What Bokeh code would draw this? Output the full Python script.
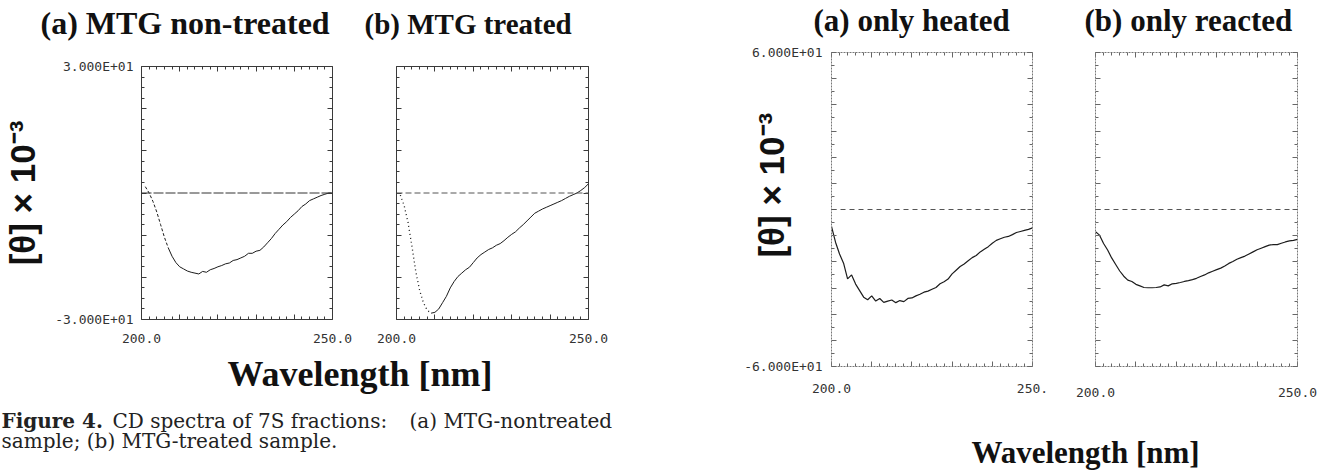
from bokeh.plotting import figure
from bokeh.models import Range1d, LinearAxis, FixedTicker, Label, Span
from bokeh.layouts import row, column
from bokeh.embed import file_html
from bokeh.resources import INLINE

# ---------------- data ----------------
wl_ab = list(range(201, 251))
theta_mtg_non = [1.5, 0.0, -2.0, -4.5, -7.5, -10.5, -13.0, -15.0, -16.5, -17.5,
                 -18.0, -18.5, -18.8, -19.0, -19.2, -18.6, -18.8, -18.2, -17.9, -17.5,
                 -17.2, -16.8, -16.6, -16.0, -15.8, -15.4, -15.0, -14.3, -14.3, -13.8,
                 -13.6, -12.8, -11.8, -10.8, -9.6, -8.6, -7.6, -6.8, -5.8, -5.0,
                 -4.2, -3.2, -2.6, -1.8, -1.4, -1.0, -0.6, -0.3, 0.0, 0.0]
theta_mtg_treated = [-0.5, -3.0, -7.0, -12.5, -18.5, -23.0, -26.0, -27.8, -28.5, -28.3,
                     -27.5, -26.0, -24.5, -22.5, -21.0, -19.8, -19.0, -18.2, -17.6, -16.5,
                     -15.4, -14.6, -14.0, -13.4, -13.0, -12.4, -12.0, -11.3, -10.5, -9.8,
                     -9.2, -8.3, -7.5, -6.6, -5.7, -4.8, -4.3, -3.8, -3.4, -3.0,
                     -2.6, -2.2, -1.8, -1.3, -0.8, -0.4, 0.0, 0.6, 1.3, 2.2]
wl_cd = list(range(200, 251))
theta_heated = [-6.5, -12.5, -17.0, -20.5, -26.5, -25.0, -28.5, -31.0, -33.5, -34.5,
                -33.0, -35.0, -34.0, -35.5, -35.0, -34.6, -35.6, -34.8, -35.2, -34.0,
                -33.8, -33.0, -32.4, -31.6, -31.2, -30.5, -29.8, -28.4, -27.6, -26.6,
                -24.6, -23.2, -21.8, -20.8, -19.6, -18.4, -17.6, -16.2, -15.2, -14.2,
                -12.9, -11.8, -11.2, -10.6, -10.3, -9.6, -8.8, -8.4, -8.0, -7.6, -7.0]
theta_reacted = [-8.5, -9.8, -13.0, -15.5, -18.5, -21.0, -23.5, -25.5, -27.0, -27.5,
                 -28.6, -29.2, -29.8, -29.9, -29.9, -29.8, -29.6, -28.8, -29.2, -28.4,
                 -28.2, -27.9, -27.5, -27.2, -26.8, -26.3, -25.6, -25.0, -24.2, -23.6,
                 -23.0, -22.4, -21.6, -20.6, -19.9, -19.0, -18.4, -17.8, -17.0, -16.2,
                 -15.4, -14.8, -14.2, -13.6, -13.4, -13.4, -12.9, -12.4, -12.0, -11.8, -11.4]

titles_left = ["(a) MTG non-treated", "(b) MTG treated"]
titles_right = ["(a) only heated", "(b) only reacted"]
y_title = "[θ] × 10⁻³"
x_title = "Wavelength [nm]"
caption_bold = "Figure 4."
caption_part1 = "CD spectra of 7S fractions:"
caption_part2 = "(a) MTG-nontreated"
caption_line2 = "sample; (b) MTG-treated sample."

x_limits = (200, 250)
y_limits_left = (-30, 30)
y_limits_right = (-60, 60)
x_major = [200, 210, 220, 230, 240, 250]
x_minor = [202, 204, 206, 208, 212, 214, 216, 218, 222, 224, 226, 228,
           232, 234, 236, 238, 242, 244, 246, 248]
y_major_left = [-30, -20, -10, 0, 10, 20, 30]
y_minor_left = [-27.5, -25, -22.5, -17.5, -15, -12.5, -7.5, -5, -2.5,
                2.5, 5, 7.5, 12.5, 15, 17.5, 22.5, 25, 27.5]
y_major_right = [-60, -50, -40, -30, -20, -10, 0, 10, 20, 30, 40, 50, 60]
y_minor_right = [-55, -45, -35, -25, -15, -5, 5, 15, 25, 35, 45, 55]
x_labels_ab = {200: "200.0", 250: "250.0"}
x_labels_c = {200: "200.0", 250: "250."}
x_labels_d = {200: "200.0", 250: "250.0"}
y_labels_left = {30: "3.000E+01", -30: "-3.000E+01"}
y_labels_right = {60: "6.000E+01", -60: "-6.000E+01"}

TITLE_FONT = "Liberation Serif"
CURVE = "#1c1c1c"
TICK_FONT = "DejaVu Sans Mono"


# ---------------- helpers (all positions in page pixels) ----------------
def make_panel(fx0, fx1, fy0, fy1, fl, fr, ft, fbt, ylim):
    p = figure(width=fx1 - fx0, height=fy1 - fy0, title=None,
               x_range=Range1d(*x_limits), y_range=Range1d(*ylim),
               min_border_left=fl - fx0, min_border_right=fx1 - fr,
               min_border_top=ft - fy0, min_border_bottom=fy1 - fbt,
               toolbar_location=None, output_backend="svg",
               x_axis_location=None, y_axis_location=None, outline_line_color=None)
    p.xgrid.visible = False
    p.ygrid.visible = False
    return p


def style_axis(ax, color, dash, tick_color, labels, standoff):
    ax.axis_line_color = color
    ax.axis_line_dash = dash
    ax.axis_line_width = 1
    ax.major_tick_line_color = tick_color
    ax.minor_tick_line_color = tick_color
    ax.major_tick_in = 5
    ax.major_tick_out = 0
    ax.minor_tick_in = 3
    ax.minor_tick_out = 0
    ax.major_label_standoff = standoff
    ax.major_label_text_font = TICK_FONT
    ax.major_label_text_font_size = "13px" if labels else "1px"
    ax.major_label_text_color = "#333333"


def add_axes(p, yt, ym, xover, yover, color, dash, tick_color, std_x, std_y):
    axes = {}
    specs = [("below", x_major, x_minor, xover, std_x),
             ("above", x_major, x_minor, {}, 0),
             ("left", yt, ym, yover, std_y),
             ("right", yt, ym, {}, 0)]
    for loc, ticks, minor, over, std in specs:
        ax = LinearAxis(ticker=FixedTicker(ticks=ticks, minor_ticks=minor))
        full = {t: "" for t in ticks}
        full.update(over)
        ax.major_label_overrides = full
        style_axis(ax, color, dash, tick_color, bool(over), std)
        p.add_layout(ax, loc)
        axes[loc] = ax
    return axes


def set_ylabel(ax, text, standoff):
    ax.axis_label = text
    ax.axis_label_standoff = standoff
    ax.axis_label_text_font = "Liberation Sans"
    ax.axis_label_text_font_style = "bold"
    ax.axis_label_text_font_size = "35px"
    ax.axis_label_text_color = "#111111"


def text_fig(fx0, fx1, fy0, fy1):
    W = fx1 - fx0
    H = fy1 - fy0
    p = figure(width=W, height=H, title=None, x_range=Range1d(0, W), y_range=Range1d(H, 0),
               min_border=0, toolbar_location=None, output_backend="svg",
               x_axis_location=None, y_axis_location=None, outline_line_color=None)
    p.xgrid.visible = False
    p.ygrid.visible = False

    def put(x, base, text, font, size, style="normal", align="left", color="#111111"):
        # base = wanted baseline; the label is anchored at the middle of its text box
        p.add_layout(Label(x=x - fx0, y=base - fy0 - 0.34 * size, text=text,
                           text_font=font, text_font_size="%dpx" % size,
                           text_font_style=style, text_color=color,
                           text_align=align, text_baseline="middle"))
    return p, put


# ---------------- left group ----------------
ttl_l, put_tl = text_fig(0, 700, 0, 46)
put_tl(40, 33, titles_left[0], TITLE_FONT, 32, "bold")
put_tl(364, 33, titles_left[1], TITLE_FONT, 29, "bold")

fa = make_panel(0, 362, 46, 355, 140, 332, 66, 319, y_limits_left)
axa = add_axes(fa, y_major_left, y_minor_left, x_labels_ab, y_labels_left,
               "#3a3a3a", "solid", "#3a3a3a", 14, 8)
set_ylabel(axa["left"], y_title, 10)
fa.add_layout(Span(location=0, dimension="width", line_color="#333333",
                   line_width=1, line_dash="10 2"))
fa.line(wl_ab[:7], theta_mtg_non[:7], line_color=CURVE, line_width=1, line_dash="3 2")
fa.line(wl_ab[6:], theta_mtg_non[6:], line_color=CURVE, line_width=1)

fb = make_panel(362, 700, 46, 355, 396, 588, 66, 319, y_limits_left)
add_axes(fb, y_major_left, y_minor_left, x_labels_ab, {},
         "#3a3a3a", "solid", "#3a3a3a", 14, 0)
fb.add_layout(Span(location=0, dimension="width", line_color="#555555",
                   line_width=1, line_dash="6 3"))
fb.line(wl_ab[:9], theta_mtg_treated[:9], line_color=CURVE, line_width=1.3, line_dash="1 3")
fb.line(wl_ab[8:], theta_mtg_treated[8:], line_color=CURVE, line_width=1)

tb_l, put_bl = text_fig(0, 700, 355, 471)
put_bl(227, 386, x_title, TITLE_FONT, 36, "bold")
put_bl(1, 427, caption_bold, "DejaVu Serif", 20, "bold", color="#222222")
put_bl(112, 427, caption_part1, "DejaVu Serif", 20, color="#222222")
put_bl(409, 427, caption_part2, "DejaVu Serif", 20, color="#222222")
put_bl(1, 447, caption_line2, "DejaVu Serif", 20, color="#222222")

# ---------------- right group ----------------
ttl_r, put_tr = text_fig(700, 1324, 0, 42)
put_tr(813, 31, titles_right[0], TITLE_FONT, 31, "bold")
put_tr(1084, 31, titles_right[1], TITLE_FONT, 31, "bold")

fc = make_panel(700, 1058, 42, 420, 831, 1032, 52, 370, y_limits_right)
axc = add_axes(fc, y_major_right, y_minor_right, x_labels_c, y_labels_right,
               "#777777", "2 1", "#666666", 17, 9)
set_ylabel(axc["left"], "\u00a0" * 5 + y_title, -50)
fc.add_layout(Span(location=0, dimension="width", line_color="#555555",
                   line_width=1, line_dash="5 4"))
fc.line(wl_cd, theta_heated, line_color=CURVE, line_width=1.2)

fd = make_panel(1058, 1324, 42, 420, 1095, 1297, 48, 366, y_limits_right)
add_axes(fd, y_major_right, y_minor_right, x_labels_d, {},
         "#777777", "2 1", "#666666", 21, 0)
fd.add_layout(Span(location=0, dimension="width", line_color="#555555",
                   line_width=1, line_dash="5 4"))
fd.line(wl_cd, theta_reacted, line_color=CURVE, line_width=1.2)

tb_r, put_br = text_fig(700, 1324, 420, 471)
put_br(1085, 463, x_title, TITLE_FONT, 31, "bold", align="center")

left = column(ttl_l, row(fa, fb), tb_l)
right = column(ttl_r, row(fc, fd), tb_r)
layout = row(left, right)

with open("out.html", "w") as f:
    f.write(file_html(layout, INLINE, "CD spectra"))
